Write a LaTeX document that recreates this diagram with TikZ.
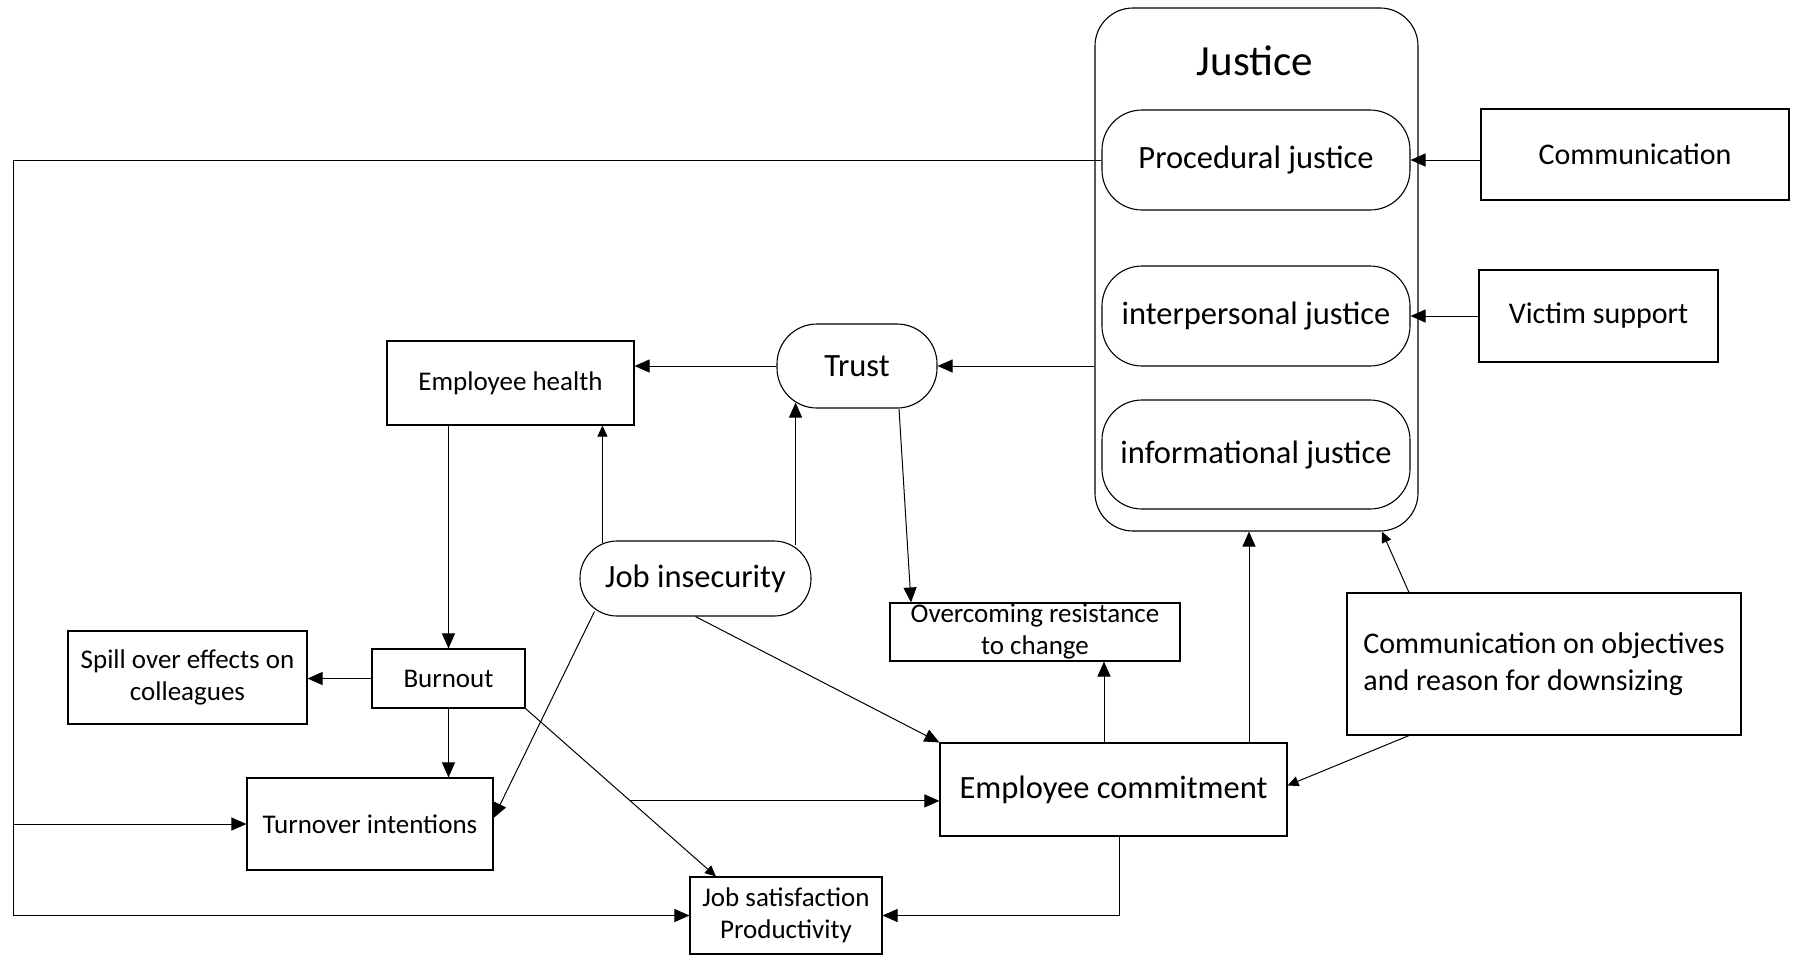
\documentclass[tikz,border=0pt]{standalone}
\usepackage{fontspec}
\setmainfont{Carlito}
\usetikzlibrary{arrows.meta,calc}
\begin{document}
\begin{tikzpicture}[x=0.5pt,y=-0.5pt,
  box/.style={draw, line width=0.55pt, inner sep=0pt, align=center},
  rbox/.style={box, rounded corners=#1},
  arr/.style={-{Triangle[length=7.5pt,width=6.5pt]}, line width=0.5pt},
  arrs/.style={-{Triangle[length=5.5pt,width=5pt]}, line width=0.5pt},
  fL/.style={font=\fontsize{21.5pt}{26pt}\selectfont},
  fM/.style={font=\fontsize{16.25pt}{19.5pt}\selectfont},
  fC/.style={font=\fontsize{15pt}{18.5pt}\selectfont},
  fS/.style={font=\fontsize{13.5pt}{16pt}\selectfont},
]
\path[use as bounding box] (0,0) rectangle (1796,955);
% Justice group
\node[rbox=19pt, minimum width=161.5pt, minimum height=261.5pt] (just) at (1256.5,269.5) {};
\node[fL] (justT) at (1255,61) {Justice};
\node[rbox=20pt, fM, minimum width=154pt, minimum height=50pt] (proc) at (1256,160) {Procedural justice};
\node[rbox=20pt, fM, minimum width=154pt, minimum height=50pt] (inter) at (1256,316) {interpersonal justice};
\node[rbox=20pt, fM, minimum width=154pt, minimum height=54.5pt] (info) at (1256,454.5) {informational justice};
% right side
\node[box, fC, minimum width=154pt, minimum height=45.5pt] (comm) at (1635,154.5) {Communication};
\node[box, fC, minimum width=119.5pt, minimum height=46pt] (vict) at (1598.5,316) {Victim support};
\node[box, fC, minimum width=197pt, minimum height=71pt, align=left] (cobj) at (1544,664) {Communication on objectives\\and reason for downsizing};
% middle
\node[rbox=20pt, fM, minimum width=80pt, minimum height=42pt] (trust) at (857,366) {Trust};
\node[box, fS, minimum width=123.5pt, minimum height=42pt] (health) at (510.5,383) {Employee health};
\node[rbox=18.5pt, fM, minimum width=115.5pt, minimum height=37.5pt] (jobins) at (695.5,578.5) {Job insecurity};
\node[box, fS, minimum width=145pt, minimum height=29pt] (over) at (1035,632) {Overcoming resistance\\to change};
\node[box, fM, minimum width=173.5pt, minimum height=46.5pt] (commit) at (1113.5,789.5) {Employee commitment};
% left
\node[box, fS, minimum width=76.5pt, minimum height=29.5pt] (burn) at (448.5,678.5) {Burnout};
\node[box, fS, minimum width=119.5pt, minimum height=46.5pt] (spill) at (187.5,677.5) {Spill over effects on\\colleagues};
\node[box, fS, minimum width=123pt, minimum height=46pt] (turn) at (370,824) {Turnover intentions};
\node[box, fS, minimum width=96pt, minimum height=38.5pt] (jobsat) at (786,915.5) {Job satisfaction\\Productivity};

% connectors
\draw[arr] (comm.west |- proc.east) -- (proc.east);
\draw[arr] (vict.west) -- (inter.east);
\draw[arr] (just.west |- trust.east) -- (trust.east);
\draw[arr] (trust.west) -- (trust.west -| health.east);
\coordinate (a1) at ($([xshift=11.5pt]jobins.north west)+(0,3)$);
\draw[arrs] (a1) -- (a1 |- health.south);
\coordinate (a2) at ($([xshift=-8pt]jobins.north east)+(0,5)$);
\draw[arr] (a2) -- ($(a2 |- trust.south)+(0,-6)$);
\coordinate (t1) at ([xshift=21pt]trust.south);
\draw[arr] (t1) -- ([xshift=-62pt]over.north);
\coordinate (c2) at ([xshift=-4.75pt]commit.north);
\draw[arr] (c2) -- (c2 |- over.south);
\coordinate (c3) at ([xshift=67.75pt]commit.north);
\draw[arr] (c3) -- (c3 |- just.south);
\coordinate (o1) at ([xshift=-67.5pt]cobj.north);
\draw[arrs] (o1) -- ([xshift=62.75pt]just.south);
\coordinate (o2) at ([xshift=-67.5pt]cobj.south);
\draw[arrs] (o2) -- ([yshift=2pt]commit.east);
\draw[arr] (jobins.south) -- (commit.north west);
\draw[arr] ($(jobins.south west)+(15,-5)$) -- ([yshift=3pt]turn.east);
\draw[arr] (burn.north |- health.south) -- (burn.north);
\draw[arr] (burn.west) -- (burn.west -| spill.east);
\draw[arr] (burn.south) -- (burn.south |- turn.north);
\coordinate (js1) at ([xshift=-35pt]jobsat.north);
\draw[arrs] (burn.south east) -- (js1);
\coordinate (br) at ($(burn.south east)!0.55!(js1)$);
\draw[arr] (br) -- (br -| commit.west);
\coordinate (c4) at ([xshift=2.75pt]commit.south);
\draw[arr] (c4) |- (jobsat.east);
\coordinate (lx) at (13,160);
\draw[arr] (proc.west) -- (lx) |- (jobsat.west);
\draw[arr] (lx |- turn.west) -- (turn.west);
\end{tikzpicture}
\end{document}
